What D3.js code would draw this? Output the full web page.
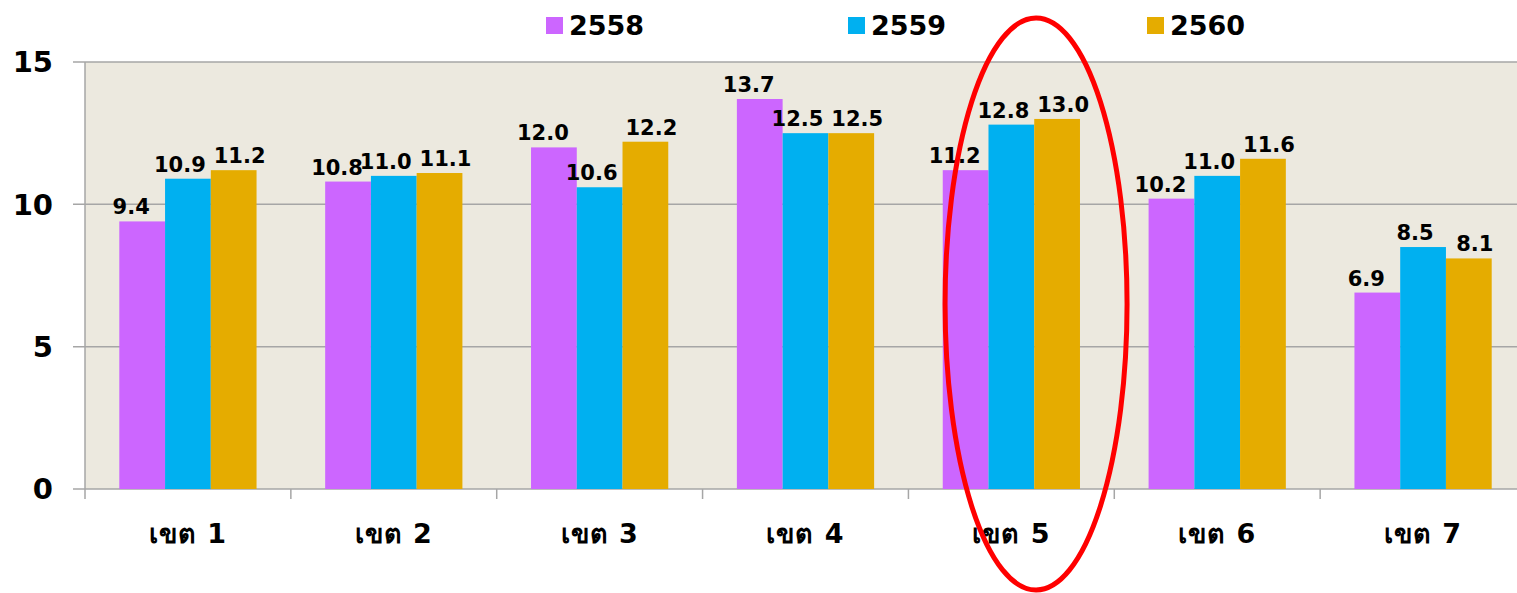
<!DOCTYPE html>
<html>
<head>
<meta charset="utf-8">
<script src="https://cdn.jsdelivr.net/npm/d3@7"></script>
<style>
  body { margin: 0; background: #fff; }
  svg text { font-family: "DejaVu Sans", Tahoma, "Noto Sans", sans-serif; font-weight: bold; fill: #000; }
</style>
</head>
<body>
<div id="chart"></div>
<script>
var categories = ["เขต 1", "เขต 2", "เขต 3", "เขต 4", "เขต 5", "เขต 6", "เขต 7"];
var seriesNames = ["2558", "2559", "2560"];
var values2558 = [9.4, 10.8, 12.0, 13.7, 11.2, 10.2, 6.9];
var values2559 = [10.9, 11.0, 10.6, 12.5, 12.8, 11.0, 8.5];
var values2560 = [11.2, 11.1, 12.2, 12.5, 13.0, 11.6, 8.1];
var yTicks = [0, 5, 10, 15];
var colors = ["#CC66FF", "#00B0F0", "#E5AC00"];

var width = 1517, height = 593;
var margin = {top: 62, right: -9, bottom: 104, left: 85};
var plotW = width - margin.left - margin.right;
var plotH = height - margin.top - margin.bottom;

var allSeries = [values2558, values2559, values2560];

var svg = d3.select("#chart").append("svg")
    .attr("width", width)
    .attr("height", height);

var g = svg.append("g").attr("transform", "translate(" + margin.left + "," + margin.top + ")");

var x0 = d3.scaleBand().domain(categories).range([0, plotW]).paddingInner(0).paddingOuter(0);
// bars take 3 of 4.5 bar widths of each band
var x1 = d3.scaleBand().domain(seriesNames)
    .range([x0.bandwidth() * 0.75 / 4.5, x0.bandwidth() * 3.75 / 4.5]).padding(0);
var y = d3.scaleLinear().domain([0, 15]).range([plotH, 0]);

// plot background
g.append("rect").attr("x", 0).attr("y", 0).attr("width", plotW).attr("height", plotH)
    .attr("fill", "#ECE9DF");

// gridlines + y tick labels
yTicks.forEach(function (t) {
    g.append("line").attr("x1", -12).attr("x2", plotW)
        .attr("y1", y(t)).attr("y2", y(t))
        .attr("stroke", "#A6A6A6").attr("stroke-width", 1.5);
    g.append("text").attr("x", -32).attr("y", y(t)).attr("dy", "0.36em")
        .attr("text-anchor", "end").style("font-size", "29px").text(t);
});

// bars
categories.forEach(function (c, i) {
    seriesNames.forEach(function (s, j) {
        var v = allSeries[j][i];
        g.append("rect")
            .attr("x", x0(c) + x1(s))
            .attr("y", y(v))
            .attr("width", x1.bandwidth())
            .attr("height", y(0) - y(v))
            .attr("fill", colors[j]);
    });
});

// value labels (spread a little outward like the original)
categories.forEach(function (c, i) {
    seriesNames.forEach(function (s, j) {
        var v = allSeries[j][i];
        var shift = j === 0 ? -11 : (j === 1 ? -8 : 6);
        g.append("text")
            .attr("x", x0(c) + x1(s) + x1.bandwidth() / 2 + shift)
            .attr("y", y(v) - 7)
            .attr("text-anchor", "middle")
            .style("font-size", "21px")
            .text(d3.format(".1f")(v));
    });
});

// axes lines
g.append("line").attr("x1", 0).attr("x2", 0).attr("y1", 0).attr("y2", plotH)
    .attr("stroke", "#A6A6A6").attr("stroke-width", 1.5);
categories.forEach(function (c) {
    g.append("line").attr("x1", x0(c)).attr("x2", x0(c)).attr("y1", plotH).attr("y2", plotH + 10)
        .attr("stroke", "#A6A6A6").attr("stroke-width", 1.5);
    g.append("text")
        .attr("x", x0(c) + x0.bandwidth() / 2)
        .attr("y", plotH + 44)
        .attr("dy", "0.36em")
        .attr("text-anchor", "middle")
        .style("font-size", "27px")
        .style("letter-spacing", "1px")
        .text(c);
});

// legend
var legendX = [546, 848, 1147];
var legend = svg.append("g").attr("class", "legend");
seriesNames.forEach(function (s, j) {
    legend.append("rect").attr("x", legendX[j]).attr("y", 17).attr("width", 17).attr("height", 17)
        .attr("fill", colors[j]);
    legend.append("text").attr("x", legendX[j] + 23).attr("y", 25).attr("dy", "0.36em")
        .style("font-size", "27px").text(s);
});

// highlight ellipse around เขต 5
svg.append("ellipse")
    .attr("cx", margin.left + x0("เขต 5") + x0.bandwidth() * 0.62)
    .attr("cy", 304)
    .attr("rx", 91)
    .attr("ry", 286)
    .attr("fill", "none")
    .attr("stroke", "#FF0000")
    .attr("stroke-width", 5);
</script>
</body>
</html>
